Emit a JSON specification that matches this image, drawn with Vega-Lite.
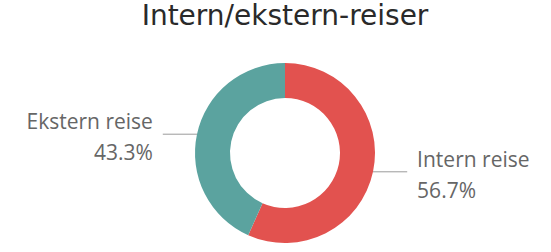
{
  "$schema": "https://vega.github.io/schema/vega-lite/v6.json",
  "autosize": "none",
  "width": 522,
  "height": 188,
  "padding": {"left": 24, "top": 59, "right": 5, "bottom": 5},
  "background": "white",
  "config": {"view": {"stroke": null}},
  "title": {
    "text": "Intern/ekstern-reiser",
    "font": "DejaVu Sans",
    "fontSize": 28,
    "fontWeight": "normal",
    "color": "#2a2a2a",
    "anchor": "middle",
    "baseline": "alphabetic",
    "offset": 6
  },
  "data": {
    "values": [
      {"category": "Intern reise", "value": 56.7},
      {"category": "Ekstern reise", "value": 43.3}
    ]
  },
  "transform": [
    {"window": [{"op": "row_number", "as": "idx"}]},
    {"joinaggregate": [{"op": "sum", "field": "value", "as": "total"}]},
    {"window": [{"op": "sum", "field": "value", "as": "cum"}], "frame": [null, 0], "sort": [{"field": "idx"}]},
    {"calculate": "2*PI*(datum.cum - datum.value/2)/datum.total", "as": "mid"},
    {"calculate": "sin(datum.mid)", "as": "ax"},
    {"calculate": "cos(datum.mid)", "as": "ay"},
    {"calculate": "datum.ax > 0 ? 1 : -1", "as": "side"},
    {"calculate": "datum.ax + datum.side*0.38", "as": "lx"},
    {"calculate": "datum.lx + datum.side*0.11", "as": "tx"},
    {"calculate": "format(datum.value/datum.total, '.1%')", "as": "pct"}
  ],
  "layer": [
    {
      "mark": {"type": "arc", "outerRadius": 90, "innerRadius": 55},
      "encoding": {
        "theta": {"field": "value", "type": "quantitative", "stack": true},
        "order": {"field": "idx", "type": "quantitative"},
        "color": {
          "field": "category",
          "type": "nominal",
          "scale": {"domain": ["Intern reise", "Ekstern reise"], "range": ["#E2524F", "#5BA39F"]},
          "legend": null
        }
      }
    },
    {
      "mark": {"type": "rule", "color": "#9a9a9a", "strokeWidth": 1},
      "encoding": {
        "x": {"field": "ax", "type": "quantitative", "scale": {"domain": [-2.9, 2.9], "nice": false, "zero": false}, "axis": null},
        "x2": {"field": "lx"},
        "y": {"field": "ay", "type": "quantitative", "scale": {"domain": [-1.0444, 1.0444], "nice": false, "zero": false}, "axis": null}
      }
    },
    {
      "mark": {"type": "text", "font": "Open Sans", "fontSize": 21, "color": "#666666", "baseline": "alphabetic", "dy": -5, "align": {"expr": "datum.side > 0 ? 'left' : 'right'"}},
      "encoding": {
        "x": {"field": "tx", "type": "quantitative"},
        "y": {"field": "ay", "type": "quantitative"},
        "text": {"field": "category"}
      }
    },
    {
      "mark": {"type": "text", "font": "Open Sans", "fontSize": 21, "color": "#666666", "baseline": "alphabetic", "dy": 26, "align": {"expr": "datum.side > 0 ? 'left' : 'right'"}},
      "encoding": {
        "x": {"field": "tx", "type": "quantitative"},
        "y": {"field": "ay", "type": "quantitative"},
        "text": {"field": "pct"}
      }
    }
  ]
}
